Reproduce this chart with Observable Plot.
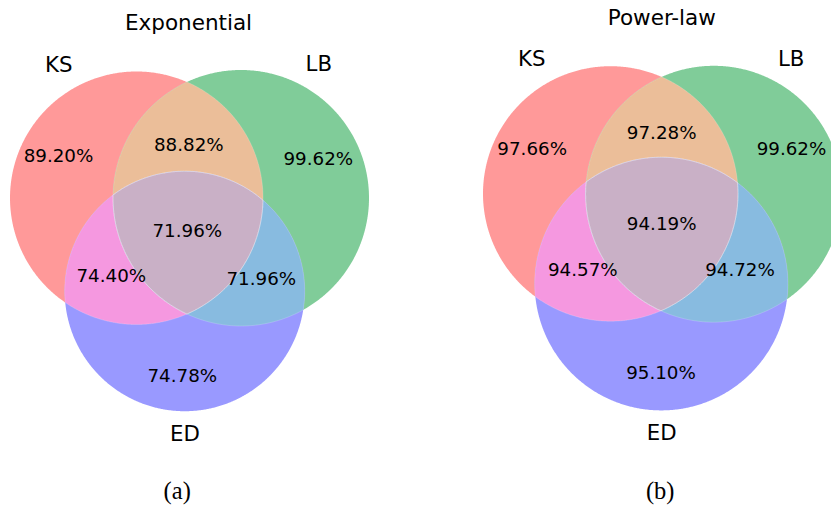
<!DOCTYPE html>
<html><head><meta charset="utf-8">
<script src="https://cdn.jsdelivr.net/npm/d3@7"></script>
<script src="https://cdn.jsdelivr.net/npm/@observablehq/plot@0.6"></script>
<style>body{margin:0;background:#fff}#fig{display:flex;width:831px;height:507px;overflow:hidden}</style>
</head><body><div id="fig"></div>
<script>
// ---- data ----
const setNames = ["KS", "LB", "ED"];
const regionKeys = ["100", "010", "110", "001", "101", "011", "111"];
const panelTitles = ["Exponential", "Power-law"];
const panelCaptions = ["(a)", "(b)"];
const expValues = [89.20, 99.62, 88.82, 74.78, 74.40, 71.96, 71.96];
const powValues = [97.66, 99.62, 97.28, 95.10, 94.57, 94.72, 94.19];

// ---- styles ----
const regionColors = {
  "100": "#ff9999", "010": "#80cc99", "001": "#9999ff",
  "110": "#ebbe99", "101": "#f598e0", "011": "#88bbe0", "111": "#c9b0c6"
};

// ---- layout (pixel units inside each panel) ----
const layouts = [
  {
    width: 415,
    circles: [{cx: 136, cy: 197.5, r: 126.5}, {cx: 240.5, cy: 197.5, r: 128}, {cx: 184.2, cy: 290.7, r: 120}],
    titlePos: [188, 29],
    setLabelPos: [[58.3, 71], [318.3, 70.7], [184.5, 440]],
    valuePos: [[58, 161.7], [317.8, 164], [188.3, 150], [181.8, 381.7], [110.8, 281.7], [260.8, 284], [186.8, 236.7]],
    captionPos: [176.7, 498]
  },
  {
    width: 416,
    circles: [{cx: 195, cy: 193.2, r: 127.5}, {cx: 298.3, cy: 193.5, r: 128.2}, {cx: 245.8, cy: 283.3, r: 126.6}],
    titlePos: [246.3, 24],
    setLabelPos: [[116.3, 65.7], [375.7, 65.7], [246.2, 439.3]],
    valuePos: [[116.7, 154.3], [376, 154.3], [246.2, 138.3], [245.5, 378.3], [167.3, 275], [324.5, 275], [246.2, 229]],
    captionPos: [244.7, 498]
  }
];
const H = 507;

// ---- geometry helpers ----
function inside(p, c) {
  const dx = p[0] - c.cx, dy = p[1] - c.cy;
  return dx * dx + dy * dy <= c.r * c.r + 1e-6;
}
function intersections(a, b) {
  const dx = b.cx - a.cx, dy = b.cy - a.cy, d = Math.hypot(dx, dy);
  const t = (d * d + a.r * a.r - b.r * b.r) / (2 * d);
  const h = Math.sqrt(Math.max(0, a.r * a.r - t * t));
  const mx = a.cx + t * dx / d, my = a.cy + t * dy / d;
  return [[mx - h * dy / d, my + h * dx / d], [mx + h * dy / d, my - h * dx / d]];
}
function shape(circs) {
  const n = 900;
  let pts = [];
  circs.forEach((c, i) => {
    for (let k = 0; k < n; k++) {
      const a = 2 * Math.PI * k / n;
      const p = [c.cx + c.r * Math.cos(a), c.cy + c.r * Math.sin(a)];
      if (circs.every((o, j) => j === i || inside(p, o))) pts.push(p);
    }
  });
  for (let i = 0; i < circs.length; i++)
    for (let j = i + 1; j < circs.length; j++)
      intersections(circs[i], circs[j]).forEach(p => {
        if (circs.every((o, k) => k === i || k === j || inside(p, o))) pts.push(p);
      });
  const mx = d3.mean(pts, p => p[0]), my = d3.mean(pts, p => p[1]);
  pts.sort((p, q) => Math.atan2(p[1] - my, p[0] - mx) - Math.atan2(q[1] - my, q[0] - mx));
  return pts;
}

const drawOrder = ["100", "010", "001", "110", "101", "011", "111"];
const fmt = d3.format(".2f");

[expValues, powValues].forEach((values, pi) => {
  const L = layouts[pi];
  const rows = [];
  drawOrder.forEach(key => {
    const circs = L.circles.filter((c, i) => key[i] === "1");
    shape(circs).forEach(p => rows.push({id: key, x: p[0], y: p[1], color: regionColors[key], inner: circs.length > 1}));
  });
  const seams = rows.filter(d => d.inner);
  const valueLabels = regionKeys.map((k, i) => ({x: L.valuePos[i][0], y: L.valuePos[i][1], text: fmt(values[i]) + "%"}));
  const setLabels = setNames.map((s, i) => ({x: L.setLabelPos[i][0], y: L.setLabelPos[i][1], text: s}));

  const chart = Plot.plot({
    width: L.width, height: H,
    margin: 0,
    x: {domain: [0, L.width], axis: null},
    y: {domain: [H, 0], axis: null},
    color: {type: "identity"},
    style: {fontFamily: "DejaVu Sans", background: "white", overflow: "hidden"},
    marks: [
      Plot.line(rows, {x: "x", y: "y", z: "id", fill: "color", stroke: "none", curve: "linear-closed"}),
      Plot.line(seams, {x: "x", y: "y", z: "id", fill: "none", stroke: "white", strokeOpacity: 0.3, strokeWidth: 0.6, curve: "linear-closed"}),
      Plot.text(valueLabels, {x: "x", y: "y", text: "text", fontSize: 18.3, textAnchor: "middle", lineAnchor: "bottom", fill: "black"}),
      Plot.text(setLabels, {x: "x", y: "y", text: "text", fontSize: 21.3, textAnchor: "middle", lineAnchor: "bottom", fill: "black"}),
      Plot.text([panelTitles[pi]], {x: L.titlePos[0], y: L.titlePos[1], text: d => d, fontSize: 21.5, textAnchor: "middle", lineAnchor: "bottom", fill: "black"}),
      Plot.text([panelCaptions[pi]], {x: L.captionPos[0], y: L.captionPos[1], text: d => d, fontSize: 24.5, fontFamily: "Liberation Serif", textAnchor: "middle", lineAnchor: "bottom", fill: "black"})
    ]
  });
  document.getElementById("fig").appendChild(chart);
});
</script>
</body></html>
